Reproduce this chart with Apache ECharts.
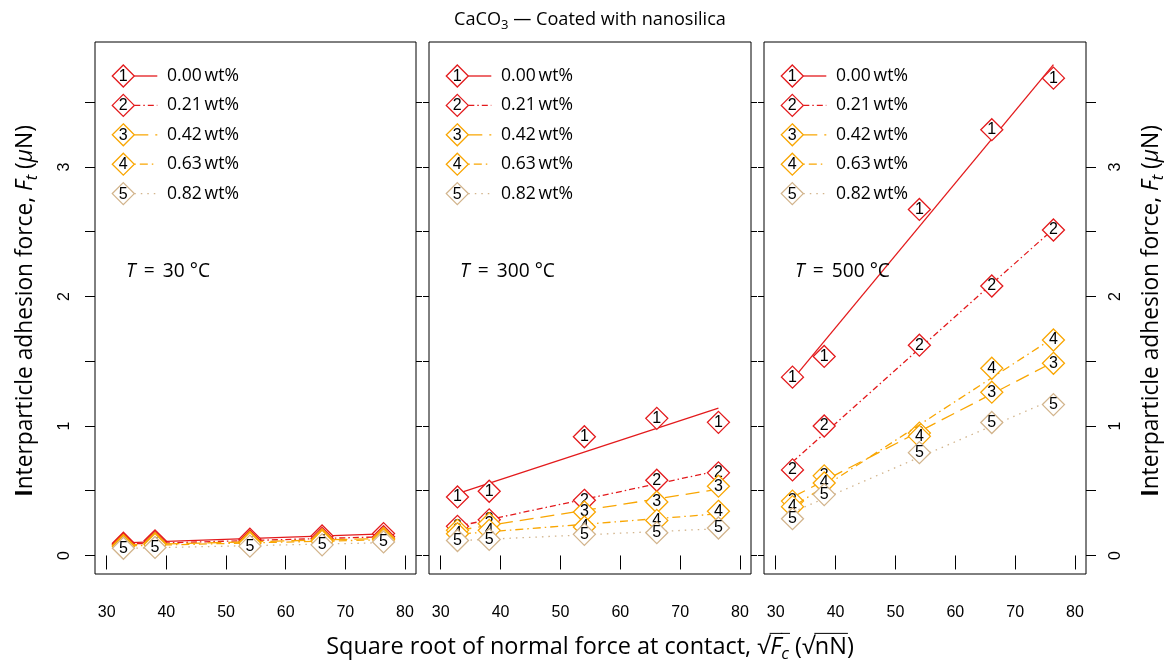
<!DOCTYPE html>
<html><head><meta charset="utf-8">
<script src="https://cdn.jsdelivr.net/npm/echarts@6/dist/echarts.min.js"></script>
<style>html,body{margin:0;padding:0;background:#fff;}#c{width:1166px;height:661px;}</style>
</head><body><div id="c"></div>
<script>
// ---------------- data ----------------
const xValues = [32.8, 38.1, 54.0, 66.1, 76.4];           // sqrt(Fc), sqrt(nN)
const seriesLabels = ['0.00', '0.21', '0.42', '0.63', '0.82'];
const temperatures = ['30', '300', '500'];
const force30C = [
  [0.095, 0.113, 0.126, 0.151, 0.169],
  [0.085, 0.100, 0.112, 0.132, 0.145],
  [0.078, 0.092, 0.103, 0.120, 0.132],
  [0.070, 0.085, 0.095, 0.110, 0.122],
  [0.056, 0.062, 0.072, 0.082, 0.105]
];
const force300C = [
  [0.452, 0.496, 0.917, 1.059, 1.028],
  [0.225, 0.275, 0.426, 0.581, 0.638],
  [0.194, 0.245, 0.336, 0.413, 0.535],
  [0.168, 0.194, 0.220, 0.271, 0.341],
  [0.116, 0.124, 0.163, 0.176, 0.212]
];
const force500C = [
  [1.377, 1.537, 2.672, 3.288, 3.686],
  [0.661, 1.000, 1.624, 2.081, 2.513],
  [0.420, 0.615, 0.945, 1.261, 1.484],
  [0.377, 0.560, 0.920, 1.446, 1.664],
  [0.284, 0.470, 0.794, 1.027, 1.165]
];
const xTicks = [30, 40, 50, 60, 70, 80];
const yTicks = [0, 0.5, 1, 1.5, 2, 2.5, 3, 3.5];
const yTickLabels = [0, 1, 2, 3];

// ---------------- style ----------------
const panels = [force30C, force300C, force500C];
const colors = ['#E31A1C', '#E31A1C', '#F9A602', '#F9A602', '#D2B48C'];
const dashes = ['solid', [6, 3, 1.5, 3], [14, 7], [1.5, 4, 8, 4], [1.5, 5]];
const gridLeft = [95, 429, 764];
const gridW = [321, 322, 322];
const gridTop = 42, gridH = 532;
const X_MIN = 28.04, X_MAX = 81.84, Y_MIN = -0.143, Y_MAX = 3.965;
const TXT = '"Open Sans", Lato, sans-serif';
const NUM = '"Liberation Sans", Arial, sans-serif';

function linFit(xs, ys) {
  const n = xs.length;
  const mx = xs.reduce((a, b) => a + b, 0) / n, my = ys.reduce((a, b) => a + b, 0) / n;
  let sxy = 0, sxx = 0;
  for (let i = 0; i < n; i++) { sxy += (xs[i] - mx) * (ys[i] - my); sxx += (xs[i] - mx) ** 2; }
  const b = sxy / sxx, a = my - b * mx;
  const x0 = Math.min(...xs), x1 = Math.max(...xs);
  return [[x0, a + b * x0], [x1, a + b * x1]];
}

const grids = [], xAxes = [], yAxes = [], series = [];
panels.forEach((pd, p) => {
  grids.push({left: gridLeft[p], top: gridTop, width: gridW[p], height: gridH,
    show: true, borderColor: '#000', borderWidth: 1, backgroundColor: 'transparent'});
  xAxes.push({type: 'value', gridIndex: p, min: X_MIN, max: X_MAX,
    axisLine: {show: false}, splitLine: {show: false},
    axisTick: {show: true, length: 14, customValues: xTicks, lineStyle: {color: '#000', width: 1}},
    axisLabel: {show: true, customValues: xTicks, color: '#000', fontSize: 16, fontFamily: NUM, margin: 31}});
  [['left', p === 0 ? 10 : 6, p === 0], ['right', p === 2 ? 10 : 6, p === 2]].forEach(([pos, len, lab]) => {
    yAxes.push({type: 'value', gridIndex: p, position: pos, min: Y_MIN, max: Y_MAX,
      axisLine: {show: false}, splitLine: {show: false},
      axisTick: {show: true, length: len, customValues: yTicks, lineStyle: {color: '#000', width: 1}},
      axisLabel: {show: lab, customValues: yTickLabels, rotate: 90, color: '#000', fontSize: 16, fontFamily: NUM, margin: 22}});
  });
  pd.forEach((ys, k) => {
    series.push({type: 'line', xAxisIndex: p, yAxisIndex: p * 2, data: linFit(xValues, ys), z: 2 + 2 * k,
      showSymbol: false, silent: true, animation: false,
      lineStyle: {color: colors[k], width: 1.3, type: dashes[k]}});
    series.push({type: 'scatter', xAxisIndex: p, yAxisIndex: p * 2, z: 3 + 2 * k,
      data: xValues.map((x, j) => [x, ys[j]]), symbol: 'diamond', symbolSize: 22, animation: false,
      itemStyle: {color: '#fff', borderColor: colors[k], borderWidth: 1.3, opacity: 1},
      label: {show: true, position: 'inside', formatter: String(k + 1), color: '#000', fontSize: 16, fontFamily: NUM}});
  });
});

// ---------------- text helpers ----------------
const ctx = document.createElement('canvas').getContext('2d');
function fstr(s, size, fam) { return (s.it ? 'italic ' : '') + (s.b ? 'bold ' : '') + size + 'px ' + fam; }
function textEl(x, y, text, font, align) {
  return {type: 'text', x: x, y: y, z: 100, silent: true,
    style: {text: text, font: font, fill: '#000', align: align || 'left', verticalAlign: 'middle',
            textAlign: align || 'left', textVerticalAlign: 'middle'}};
}
function measureSegs(segs, size, fam) {
  return segs.map(s => { const sz = s.sub ? size * 0.72 : size; const f = fstr(s, sz, fam); ctx.font = f; return {s, f, w: ctx.measureText(s.t).width}; });
}
function fitSize(segs, fam, target) {
  const tot = measureSegs(segs, 20, fam).reduce((a, b) => a + b.w, 0);
  return 20 * target / tot;
}
// anchor: 'center' or 'left'
function segGroup(segs, size, fam, cx, cy, rot, anchor) {
  const items = measureSegs(segs, size, fam);
  const total = items.reduce((a, b) => a + b.w, 0);
  let x = anchor === 'left' ? 0 : -total / 2; const ch = [];
  items.forEach(it => {
    ch.push(textEl(x, it.s.sub ? size * 0.3 : 0, it.s.t, it.f, 'left'));
    if (it.s.over) ch.push({type: 'line', z: 100, silent: true, shape: {x1: x - 0.5, y1: -size * 0.58, x2: x + it.w + 1, y2: -size * 0.58}, style: {stroke: '#000', lineWidth: 1}});
    x += it.w;
  });
  return {type: 'group', x: cx, y: cy, rotation: rot || 0, children: ch};
}

const graphics = [];
// title
const titleSegs = [{t: 'CaCO'}, {t: '3', sub: true}, {t: ' \u2014 Coated with nanosilica'}];
graphics.push(segGroup(titleSegs, fitSize(titleSegs, TXT, 272), TXT, 590, 20));
// x title
const xSegs = [{t: 'Square root of normal force at contact, '}, {t: '\u221A'}, {t: 'F', it: true, over: true}, {t: 'c', it: true, sub: true, over: true},
  {t: ' ('}, {t: '\u221A'}, {t: 'nN', over: true}, {t: ')'}];
graphics.push(segGroup(xSegs, fitSize(xSegs, TXT, 528), TXT, 590, 647));
// y titles
const ySegs = [{t: 'I', b: true}, {t: 'nterparticle adhesion force, '}, {t: 'F', it: true}, {t: 't', it: true, sub: true}, {t: ' ('}, {t: '\u00B5', it: true}, {t: 'N)'}];
const ySize = fitSize(ySegs, TXT, 372);
graphics.push(segGroup(ySegs, ySize, TXT, 26, 311, Math.PI / 2));
graphics.push(segGroup(ySegs, ySize, TXT, 1152, 311, Math.PI / 2));

// legends and temperature labels
const legY0 = 76, legDy = 29.4;
const legSize = fitSize([{t: '0.00\u2009wt%'}], TXT, 72);
const tSize = fitSize([{t: 'T', it: true}, {t: ' \u2009=\u2009 500 \u00B0C'}], TXT, 95);
gridLeft.forEach((L, p) => {
  seriesLabels.forEach((lab, k) => {
    const cx = L + 28.3, cy = legY0 + k * legDy;
    graphics.push({type: 'polygon', z: 100, silent: true, shape: {points: [[cx, cy - 11], [cx + 11, cy], [cx, cy + 11], [cx - 11, cy]]},
      style: {fill: '#fff', stroke: colors[k], lineWidth: 1.3}});
    graphics.push(textEl(cx, cy + 0.5, String(k + 1), '16px ' + NUM, 'center'));
    graphics.push({type: 'line', z: 100, silent: true, shape: {x1: cx + 11, y1: cy, x2: cx + 34, y2: cy},
      style: {stroke: colors[k], lineWidth: 1.3, lineDash: dashes[k] === 'solid' ? null : dashes[k]}});
    graphics.push(textEl(L + 72, cy, lab + '\u2009wt%', legSize + 'px ' + TXT, 'left'));
  });
  graphics.push(segGroup([{t: 'T', it: true}, {t: ' \u2009=\u2009 ' + temperatures[p] + ' \u00B0C'}], tSize, TXT, L + 31, 272, 0, 'left'));
});

const chart = echarts.init(document.getElementById('c'), null, {renderer: 'canvas'});
chart.setOption({
  animation: false,
  backgroundColor: '#fff',
  grid: grids, xAxis: xAxes, yAxis: yAxes, series: series,
  graphic: {elements: graphics}
});
</script></body></html>
